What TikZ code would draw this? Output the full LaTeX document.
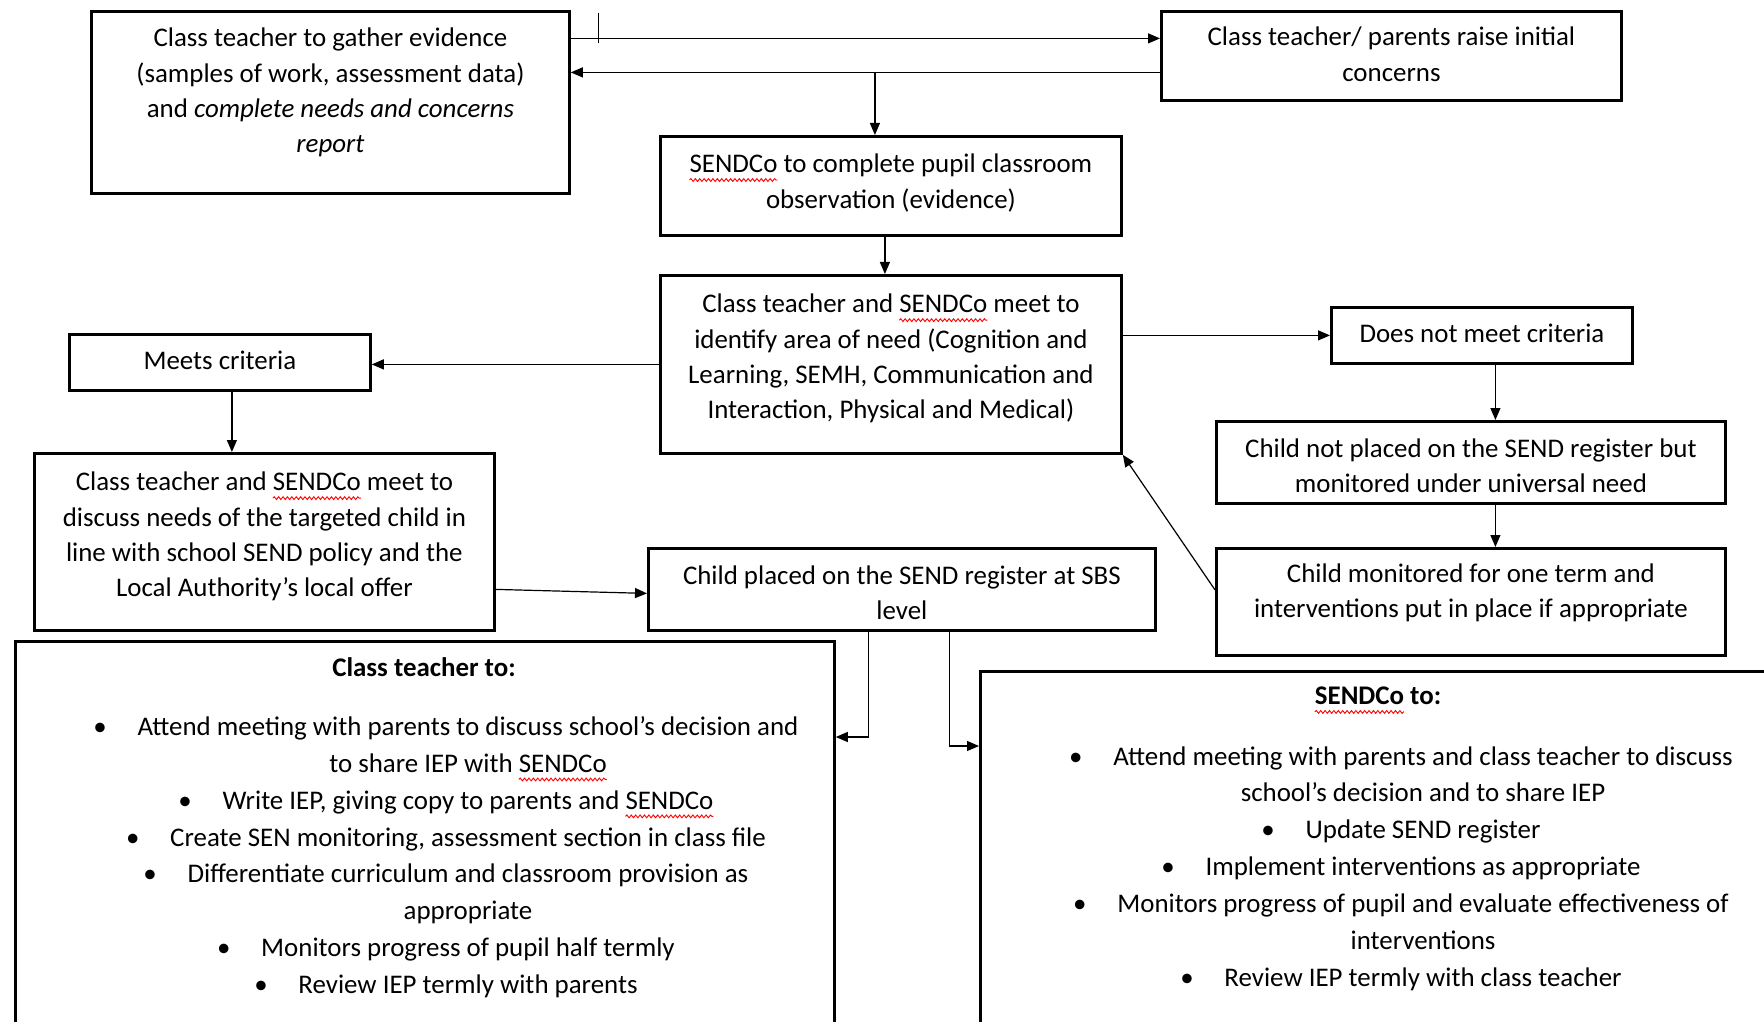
\documentclass[tikz,border=0pt]{standalone}
\usepackage{fontspec}
\setmainfont{Carlito}
\usetikzlibrary{arrows.meta,positioning,decorations.pathmorphing}
\newsavebox\wordbox
\newcommand\spellmark[1]{\sbox\wordbox{#1}\rlap{\tikz[overlay, baseline=0pt]\draw[red, line width=0.45pt, decorate, decoration={snake, amplitude=0.7pt, segment length=2.2pt}] (0pt,-3.6pt) -- (\wd\wordbox,-3.6pt);}\usebox\wordbox}
\newcommand\bul{\llap{\textbullet\hspace{15.4pt}}}
\newcommand\lift[1]{\rule[-#1]{0pt}{#1}}
\newcommand\drop[1]{\rule{0pt}{#1}}

\begin{document}
\begin{tikzpicture}[
x=0.5pt, y=-0.5pt,
boxnode/.style={rectangle, draw, line width=1.4pt, anchor=north west, align=center, inner sep=0pt, font=\fontsize{13.45pt}{17.6pt}\selectfont},
panelnode/.style={rectangle, draw, line width=1.4pt, anchor=north west, inner sep=0pt},
headnode/.style={inner sep=0pt, font=\fontsize{13.45pt}{17.6pt}\selectfont\bfseries},
listnode/.style={anchor=north, align=center, inner sep=0pt, font=\fontsize{13.45pt}{18.45pt}\selectfont},
link/.style={line width=0.6pt, arrows={-Triangle[length=6pt, width=5pt]}}]
\path[use as bounding box, clip] (0,0) rectangle (1764,1021);
% Nodes
\node[boxnode, minimum width=239pt, minimum height=91pt] (gather) at (90,10) {Class teacher to gather evidence\\(samples of work, assessment data)\\and \textit{complete needs and concerns}\\\textit{report}\lift{12pt}};
\node[boxnode, minimum width=230pt, minimum height=44.5pt] (raise) at (1160,10) {Class teacher/ parents raise initial\\concerns\lift{1.7pt}};
\node[boxnode, minimum width=230.5pt, minimum height=49.5pt] (observe) at (659,135) {\spellmark{SENDCo} to complete pupil classroom\\observation (evidence)\lift{4.8pt}};
\node[boxnode, minimum width=230.5pt, minimum height=89pt] (identify) at (659,274) {Class teacher and \spellmark{SENDCo} meet to\\identify area of need (Cognition and\\Learning, SEMH, Communication and\\Interaction, Physical and Medical)\lift{8pt}};
\node[boxnode, minimum width=150.5pt, minimum height=28pt] (meets) at (68,333) {Meets criteria\lift{2.2pt}};
\node[boxnode, minimum width=150.5pt, minimum height=28pt] (notmeets) at (1330,306) {Does not meet criteria\lift{2.2pt}};
\node[boxnode, minimum width=254.5pt, minimum height=41pt] (notplaced) at (1215,420) {\drop{12.8pt}Child not placed on the SEND register but\\monitored under universal need};
\node[boxnode, minimum width=254.5pt, minimum height=53.5pt] (monitored) at (1215,547) {Child monitored for one term and\\interventions put in place if appropriate\lift{11.4pt}};
\node[boxnode, minimum width=230pt, minimum height=88.5pt] (discuss) at (33,452) {Class teacher and \spellmark{SENDCo} meet to\\discuss needs of the targeted child in\\line with school SEND policy and the\\Local Authority’s local offer\lift{7.5pt}};
\node[boxnode, minimum width=253.5pt, minimum height=41pt] (placed) at (647,547) {\drop{12.8pt}Child placed on the SEND register at SBS\\level};
\node[panelnode, minimum width=409.5pt, minimum height=240pt] (teacherbox) at (14,640) {};
\node[panelnode, minimum width=420pt, minimum height=240pt] (sendcobox) at (979,670) {};
\node[headnode] (teacherhead) at (424,667) {Class teacher to:};
\node[headnode] (sendcohead) at (1378,696) {\spellmark{SENDCo} to:};
\node[listnode] (teacherlist) at (468,716) {\bul Attend meeting with parents to discuss school’s decision and\\to share IEP with \spellmark{SENDCo}\\\bul Write IEP, giving copy to parents and \spellmark{SENDCo}\\\bul Create SEN monitoring, assessment section in class file\\\bul Differentiate curriculum and classroom provision as\\appropriate\\\bul Monitors progress of pupil half termly\\\bul Review IEP termly with parents};
\node[listnode] (sendcolist) at (1423,746) {\bul Attend meeting with parents and class teacher to discuss\\school’s decision and to share IEP\\\bul Update SEND register\\\bul Implement interventions as appropriate\\\bul Monitors progress of pupil and evaluate effectiveness of\\interventions\\\bul Review IEP termly with class teacher};
% Lines
\coordinate (back) at ([yshift=-8.25pt]raise.west);
\draw[link] ([yshift=8.75pt]raise.west -| gather.east) -- ([yshift=8.75pt]raise.west);
\draw[line width=0.6pt] ([xshift=14pt,yshift=-1.5pt]gather.north east) -- ++(0,30);
\draw[link] (back) -- (back -| gather.east);
\draw[link] ([xshift=-8pt]observe.north |- back) -- ([xshift=-8pt]observe.north);
\draw[link] ([xshift=-3pt]observe.south) -- ([xshift=-3pt]identify.north);
\draw[link] (identify.west) -- (identify.west -| meets.east);
\draw[link] (notmeets.west -| identify.east) -- (notmeets.west);
\draw[link] ([xshift=6.75pt]notmeets.south) -- ([xshift=6.75pt]notmeets.south |- notplaced.north);
\draw[link] ([xshift=12.25pt]notplaced.south) -- ([xshift=12.25pt]notplaced.south |- monitored.north);
\draw[link] ([yshift=6pt]monitored.west) -- (identify.south east);
\draw[link] ([xshift=6pt]meets.south) -- ([xshift=6pt]meets.south |- discuss.north);
\draw[link] ([yshift=-23.75pt]discuss.east) -- ([yshift=-2pt]placed.west);
\draw[link] ([xshift=-16.75pt]placed.south) |- ([yshift=-48.5pt]teacherbox.north east);
\draw[link] ([xshift=23.75pt]placed.south) |- ([yshift=-38pt]sendcobox.north west);
\end{tikzpicture}
\end{document}
